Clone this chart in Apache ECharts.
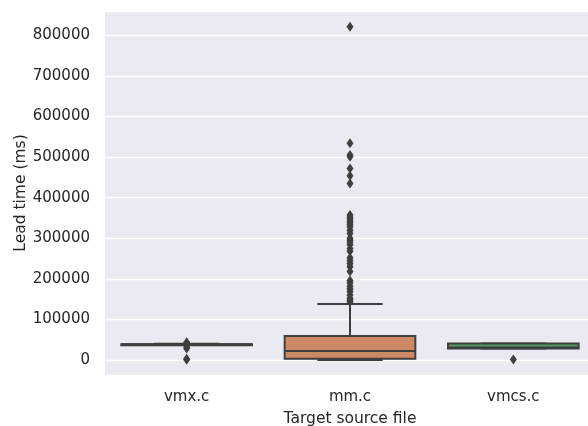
<!DOCTYPE html>
<html>
<head>
<meta charset="utf-8">
<script src="https://cdn.jsdelivr.net/npm/echarts@6/dist/echarts.min.js"></script>
<style>
  html, body { margin: 0; padding: 0; background: #fff; }
  #chart { width: 588px; height: 426px; }
</style>
</head>
<body>
<div id="chart"></div>
<script>
const categories = ['vmx.c', 'mm.c', 'vmcs.c']
// [min, q1, median, q3, max] per category
const vmxBox = [37000, 38000, 38500, 39000, 40000]
const mmBox = [0, 3000, 22000, 59000, 138000]
const vmcsBox = [28000, 28000, 31000, 40400, 40400]
const vmxOutliers = [44000, 41000, 32000, 28500, 3000, 500]
const mmOutliers = [
  821000, 534000, 505000, 501000, 472000, 454000, 435000,
  357000, 352000, 348000, 343000, 338000, 333000, 328000, 320000, 312000,
  300000, 295000, 290000, 284000, 275000, 268000, 252000, 245000, 238000,
  230000, 218000, 196000, 190000, 182000, 175000, 168000, 160000, 152000,
  147000, 143000
]
const vmcsOutliers = [1000]
const boxColors = ['#5975a4', '#cc8963', '#539a62']

const chart = echarts.init(document.getElementById('chart'))
const font = 'DejaVu Sans'
const ink = '#262626'
const edge = '#3f3f3f'

const boxData = [vmxBox, mmBox, vmcsBox].map((b, i) => [i].concat(b))
const outlierData = []
;[vmxOutliers, mmOutliers, vmcsOutliers].forEach((list, i) => {
  list.forEach(v => outlierData.push([i, v]))
})

function renderBox(params, api) {
  const i = api.value(0)
  const bw = api.size([1, 0])[0] * 0.8
  const pMin = api.coord([i, api.value(1)])
  const pQ1 = api.coord([i, api.value(2)])
  const pMed = api.coord([i, api.value(3)])
  const pQ3 = api.coord([i, api.value(4)])
  const pMax = api.coord([i, api.value(5)])
  const cx = pMin[0]
  const line = { stroke: edge, lineWidth: 2 }
  return {
    type: 'group',
    children: [
      { type: 'line', shape: { x1: cx, y1: pQ3[1], x2: cx, y2: pMax[1] }, style: line },
      { type: 'line', shape: { x1: cx, y1: pQ1[1], x2: cx, y2: pMin[1] }, style: line },
      { type: 'line', shape: { x1: cx - bw / 4, y1: pMax[1], x2: cx + bw / 4, y2: pMax[1] }, style: line },
      { type: 'line', shape: { x1: cx - bw / 4, y1: pMin[1], x2: cx + bw / 4, y2: pMin[1] }, style: line },
      {
        type: 'rect',
        shape: { x: cx - bw / 2, y: pQ3[1], width: bw, height: Math.max(pQ1[1] - pQ3[1], 1) },
        style: { fill: boxColors[i], stroke: edge, lineWidth: 2 }
      },
      { type: 'line', shape: { x1: cx - bw / 2, y1: pMed[1], x2: cx + bw / 2, y2: pMed[1] }, style: line }
    ]
  }
}

const option = {
  animation: false,
  backgroundColor: '#fff',
  textStyle: { fontFamily: font },
  grid: {
    left: 105,
    top: 11,
    width: 490,
    height: 364,
    outerBoundsMode: 'none',
    containLabel: false,
    show: true,
    backgroundColor: '#eaeaf2',
    borderWidth: 0
  },
  xAxis: {
    type: 'category',
    data: categories,
    boundaryGap: true,
    name: 'Target source file',
    nameLocation: 'middle',
    nameGap: 36,
    nameMoveOverlap: false,
    nameTextStyle: { color: ink, fontSize: 15.5, fontFamily: font },
    axisLine: { show: false },
    axisTick: { show: false },
    axisLabel: { color: ink, fontSize: 15, fontFamily: font, margin: 15 },
    splitLine: { show: false }
  },
  yAxis: {
    type: 'value',
    min: -37000,
    max: 860000,
    splitNumber: 9,
    name: 'Lead time (ms)',
    nameLocation: 'middle',
    nameGap: 76,
    nameMoveOverlap: false,
    nameTextStyle: { color: ink, fontSize: 15.5, fontFamily: font },
    axisLine: { show: false },
    axisTick: { show: false },
    axisLabel: {
      color: ink,
      fontSize: 15,
      fontFamily: font,
      margin: 15,
      showMinLabel: false,
      showMaxLabel: false,
      formatter: v => String(v)
    },
    splitLine: { lineStyle: { color: '#ffffff', width: 1.3 } }
  },
  series: [
    {
      type: 'custom',
      renderItem: renderBox,
      data: boxData,
      encode: { x: 0, y: [1, 2, 3, 4, 5] },
      z: 2
    },
    {
      type: 'scatter',
      data: outlierData,
      symbol: 'diamond',
      symbolSize: [7, 10],
      itemStyle: { color: edge, opacity: 1 },
      z: 3
    }
  ]
}
chart.setOption(option)
</script>
</body>
</html>
